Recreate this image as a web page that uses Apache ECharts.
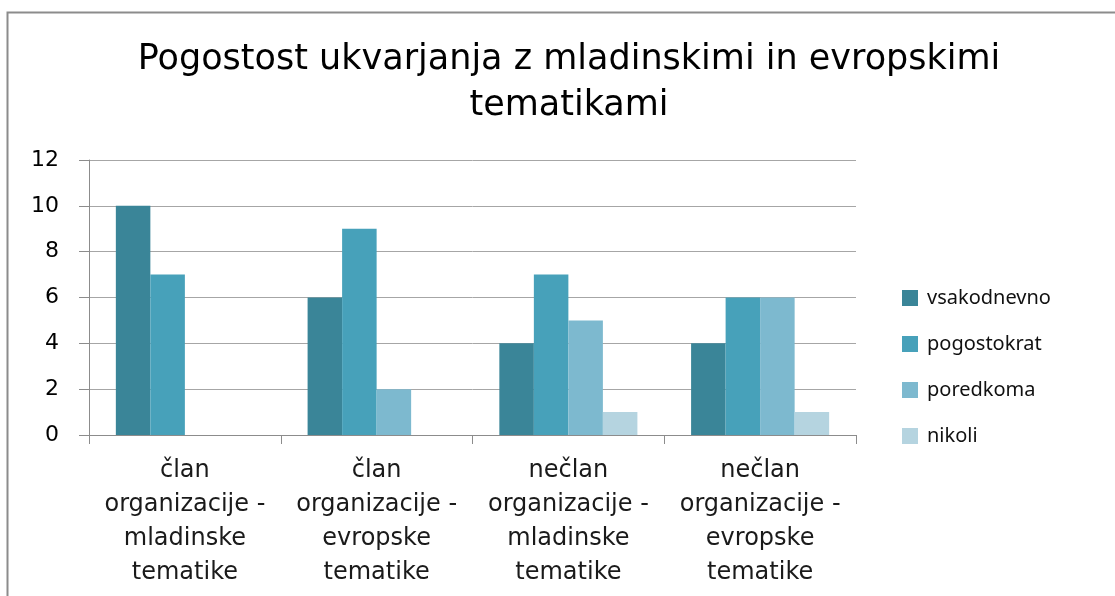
<!DOCTYPE html>
<html><head><meta charset="utf-8">
<script src="https://cdn.jsdelivr.net/npm/echarts@6/dist/echarts.min.js"></script>
<style>html,body{margin:0;padding:0;background:#fff}#c{width:1115px;height:596px}</style>
</head><body><div id="c"></div>
<script>
const categories = [
  'član\norganizacije -\nmladinske\ntematike',
  'član\norganizacije -\nevropske\ntematike',
  'nečlan\norganizacije -\nmladinske\ntematike',
  'nečlan\norganizacije -\nevropske\ntematike'
];
const seriesNames = ['vsakodnevno', 'pogostokrat', 'poredkoma', 'nikoli'];
const vsakodnevno = [10, 6, 4, 4];
const pogostokrat = [7, 9, 7, 6];
const poredkoma = [0, 2, 5, 6];
const nikoli = [0, 0, 1, 1];
const yTicks = [0, 2, 4, 6, 8, 10, 12];
const colors = ['#3A8598', '#47A1BA', '#7DB9CF', '#B5D4E0'];
const FONT = "'DejaVu Sans', sans-serif";
const FONT2 = "'Noto Sans', 'Open Sans', sans-serif";

const values = [vsakodnevno, pogostokrat, poredkoma, nikoli];
const chart = echarts.init(document.getElementById('c'));
chart.setOption({
  animation: false,
  backgroundColor: '#fff',
  title: {
    text: 'Pogostost ukvarjanja z mladinskimi in evropskimi\ntematikami',
    left: 564, top: 32, textAlign: 'center',
    textStyle: {fontFamily: FONT, fontSize: 35, fontWeight: 'normal', color: '#000', lineHeight: 46}
  },
  graphic: [{
    type: 'rect', left: 5, top: 10, shape: {width: 1200, height: 700},
    style: {fill: 'none', stroke: '#8c8c8c', lineWidth: 2}, silent: true
  }],
  legend: {
    orient: 'vertical', left: 897, top: 283,
    itemWidth: 16, itemHeight: 16, itemGap: 26,
    icon: 'rect',
    textStyle: {fontFamily: FONT2, fontSize: 20, color: '#111', padding: [0, 0, 0, 4]},
    data: seriesNames
  },
  grid: {left: 89, right: 259, top: 160, bottom: 161, containLabel: false},
  xAxis: {
    type: 'category', data: categories,
    axisLine: {lineStyle: {color: '#8c8c8c', width: 1}},
    axisTick: {show: true, length: 9, lineStyle: {color: '#8c8c8c'}},
    axisLabel: {fontFamily: FONT, fontSize: 24, color: '#1a1a1a', lineHeight: 34, margin: 19, interval: 0}
  },
  yAxis: {
    type: 'value', min: 0, max: 12, interval: 2,
    axisLine: {show: true, lineStyle: {color: '#8c8c8c'}},
    axisTick: {show: true, length: 10, lineStyle: {color: '#8c8c8c'}},
    splitLine: {lineStyle: {color: '#a6a6a6', width: 1}},
    axisLabel: {fontFamily: FONT, fontSize: 22, color: '#000', margin: 30,
      formatter: v => yTicks.includes(v) ? String(v) : ''}
  },
  series: seriesNames.map((n, i) => ({
    name: n, type: 'bar', data: values[i],
    barGap: '0%', barCategoryGap: '28%',
    itemStyle: {color: colors[i]}
  }))
});
</script></body></html>
